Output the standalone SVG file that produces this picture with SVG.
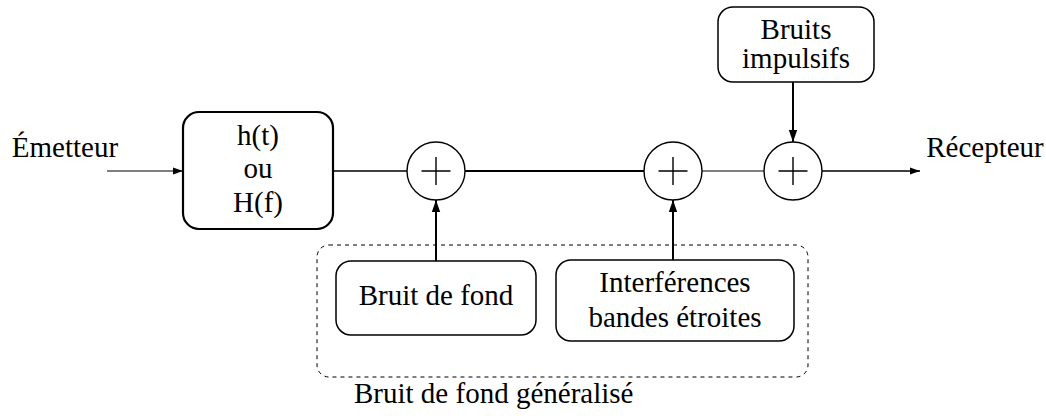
<svg xmlns="http://www.w3.org/2000/svg" width="1046" height="416" viewBox="0 0 1046 416">
<style>
text{font-family:"Liberation Serif","DejaVu Serif",serif;font-size:29px;fill:#000;text-anchor:middle}
.box{fill:#fff;stroke:#000;stroke-width:1.5}
.boxb{fill:#fff;stroke:#000;stroke-width:2.2}
.sum{fill:#fff;stroke:#000;stroke-width:1.4}
.plus{stroke:#000;stroke-width:1.4;fill:none}
.ln{stroke:#000;fill:none}
</style>
<defs>
<marker id="ah" viewBox="0 0 10 10" refX="10" refY="5" markerWidth="10" markerHeight="10" markerUnits="userSpaceOnUse" orient="auto">
<path d="M0,1.5 L10,5 L0,8.5 z" fill="#000"/>
</marker>
<marker id="ahb" viewBox="0 0 10 10" refX="10" refY="5" markerWidth="12" markerHeight="12" markerUnits="userSpaceOnUse" orient="auto">
<path d="M0,1.5 L10,5 L0,8.5 z" fill="#000"/>
</marker>
</defs>
<g id="group-bdfg">
<rect x="317" y="245" width="491" height="132" rx="12" fill="none" stroke="#000" stroke-width="1" stroke-dasharray="4,4"/>
<text x="354" y="403" style="text-anchor:start">Bruit de fond généralisé</text>
</g>
<g id="connectors">
<line class="ln" x1="107" y1="171" x2="183" y2="171" stroke-width="1.2" marker-end="url(#ah)"/>
<line class="ln" x1="333" y1="171" x2="407" y2="171" stroke-width="1.5"/>
<line class="ln" x1="465" y1="171" x2="644" y2="171" stroke-width="2.2"/>
<line class="ln" x1="702" y1="171" x2="764" y2="171" stroke-width="1.1"/>
<line class="ln" x1="822" y1="171" x2="920" y2="171" stroke-width="1.4" marker-end="url(#ah)"/>
<line class="ln" x1="436" y1="261" x2="436" y2="200" stroke-width="2" marker-end="url(#ahb)"/>
<line class="ln" x1="673" y1="260" x2="673" y2="200" stroke-width="2" marker-end="url(#ahb)"/>
<line class="ln" x1="793" y1="82" x2="793" y2="142" stroke-width="2" marker-end="url(#ahb)"/>
</g>
<g id="emetteur"><text x="65" y="157">Émetteur</text></g>
<g id="recepteur"><text x="985" y="157">Récepteur</text></g>
<g id="canal">
<rect class="boxb" x="183" y="112" width="150" height="117" rx="16"/>
<text x="258" y="145">h(t)</text>
<text x="258" y="178">ou</text>
<text x="258" y="212">H(f)</text>
</g>
<g id="sum1">
<circle class="sum" cx="436" cy="171" r="29"/>
<path class="plus" d="M421.5,171 H450.5 M436,157 V185"/>
</g>
<g id="sum2">
<circle class="sum" cx="673" cy="171" r="29"/>
<path class="plus" d="M658.5,171 H687.5 M673,157 V185"/>
</g>
<g id="sum3">
<circle class="sum" cx="793" cy="171" r="29"/>
<path class="plus" d="M778.5,171 H807.5 M793,157 V185"/>
</g>
<g id="bruit-fond">
<rect class="box" x="336" y="261" width="200" height="74" rx="15"/>
<text x="436" y="305">Bruit de fond</text>
</g>
<g id="interferences">
<rect class="box" x="556" y="260" width="238" height="81" rx="15"/>
<text x="675" y="292">Interférences</text>
<text x="675" y="327">bandes étroites</text>
</g>
<g id="impulsifs">
<rect class="box" x="718" y="7" width="156" height="75" rx="15"/>
<text x="796" y="39">Bruits</text>
<text x="796" y="68">impulsifs</text>
</g>
</svg>
